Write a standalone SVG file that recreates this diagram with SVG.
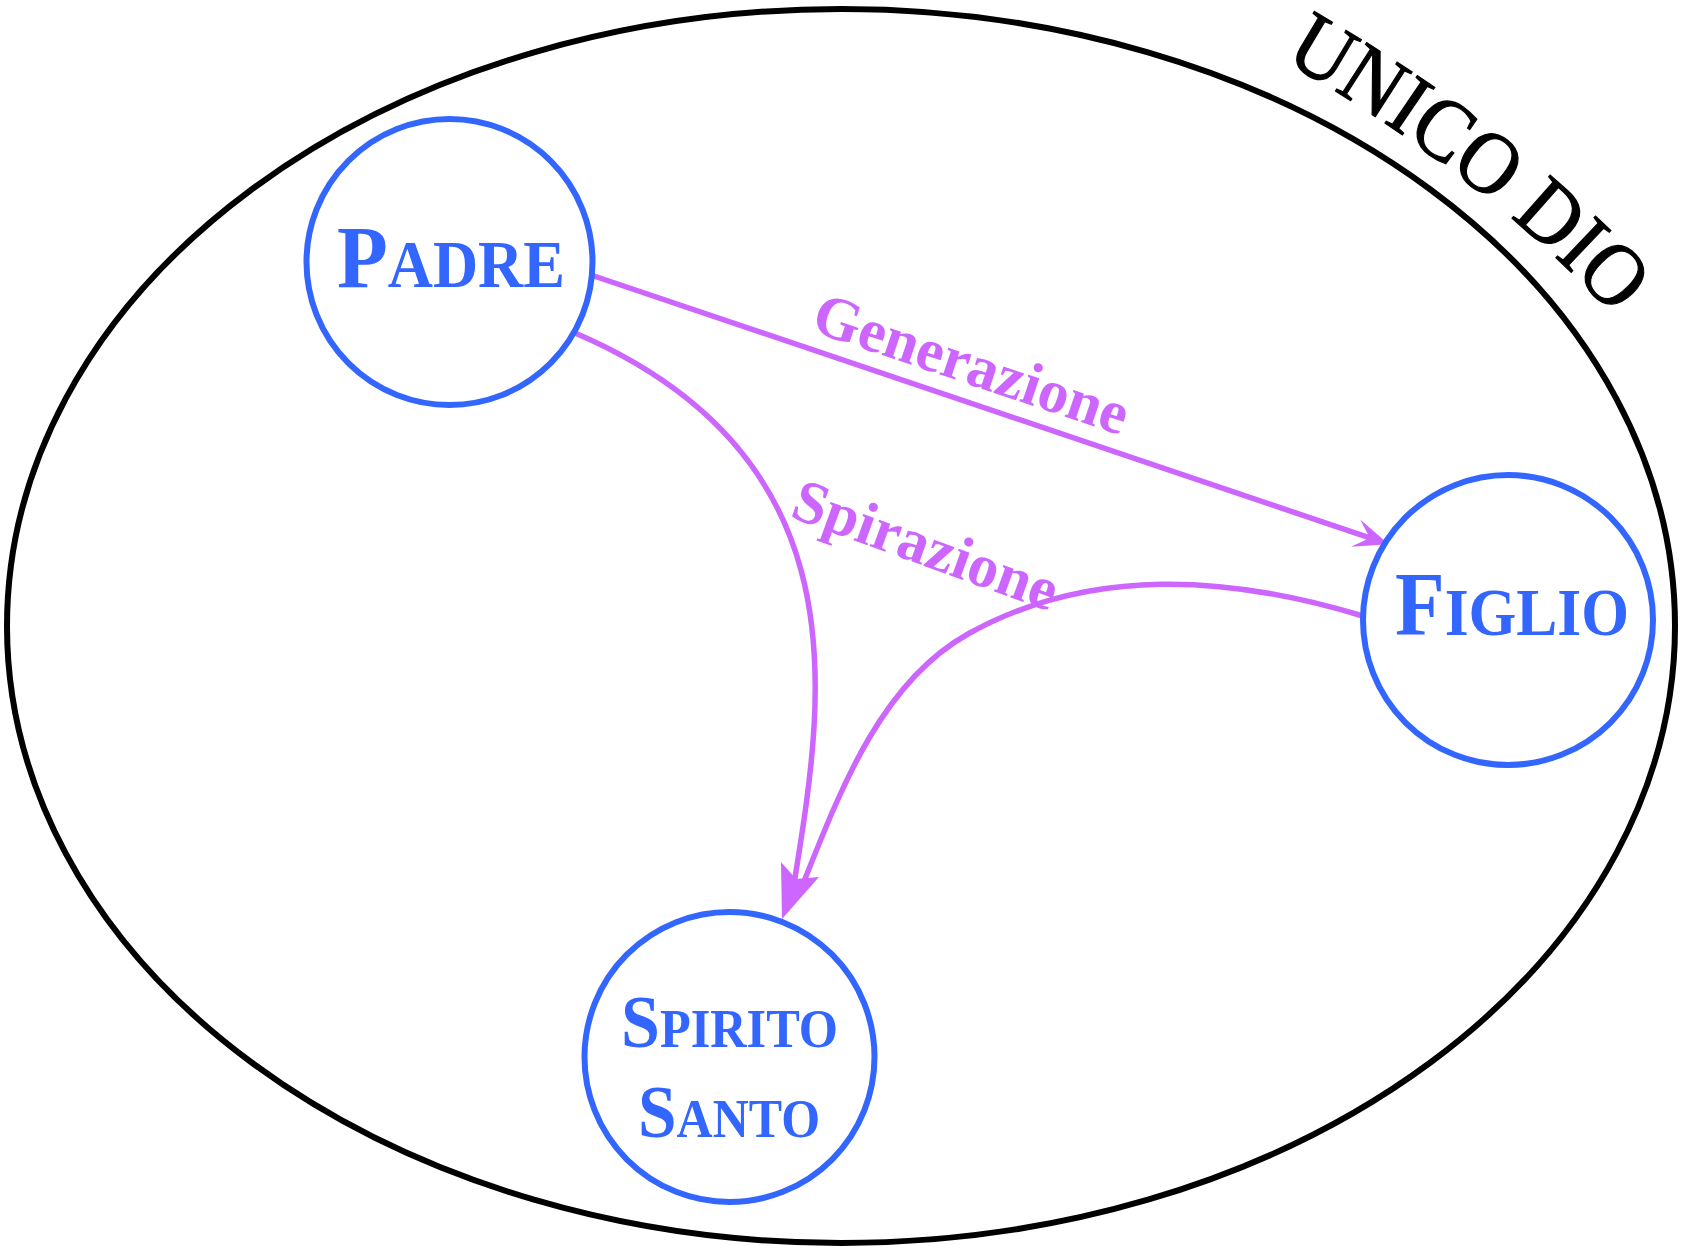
<svg xmlns="http://www.w3.org/2000/svg" width="1686" height="1246" viewBox="0 0 1686 1246">
<style>
.bg{fill:#ffffff}
.god{fill:none;stroke:#000000;stroke-width:6}
.person{fill:#ffffff;stroke:#3366ff;stroke-width:6}
.name{font-family:"Liberation Serif",serif;font-weight:bold;fill:#3366ff;text-anchor:middle}
.rel{fill:none;stroke:#cc66ff;stroke-width:5.5}
.head{fill:#cc66ff;stroke:none}
.lbl{font-family:"Liberation Serif",serif;font-weight:bold;font-size:61px;fill:#cc66ff;text-anchor:middle}
.title{font-family:"Liberation Serif",serif;font-size:88px;fill:#000000;stroke:#000000;stroke-width:1.2}
</style>
<defs>
<marker id="arrow" markerUnits="userSpaceOnUse" orient="auto" markerWidth="40" markerHeight="40" refX="0" refY="0" viewBox="-14 -14 32 28" overflow="visible">
<path class="head" d="M 16 0 L -12 -11.5 L 0 0 L -12 11.5 Z"/>
</marker>
<path id="titlePath" d="M 1283 60 Q 1484 176 1612 314 L 1672 386"/>
</defs>
<rect class="bg" x="0" y="0" width="1686" height="1246"/>
<g id="unico-dio">
<ellipse class="god" cx="841" cy="626" rx="834" ry="617"/>
<text class="title"><textPath href="#titlePath" textLength="420" lengthAdjust="spacingAndGlyphs">UNICO DIO</textPath></text>
</g>
<g id="connectors">
<line class="rel" x1="594" y1="276" x2="1369.8" y2="537.9" marker-end="url(#arrow)"/>
<path class="rel" d="M 575 333 C 685 380 769.7 454.2 801 570 C 828.4 671.3 810.8 780 794 884"/>
<path class="rel" d="M 1363 616 C 1229 575.4 1090.2 565.8 968 634 C 880.7 682.7 840 791 803 884"/>
<path class="head" d="M 782 919 L 781 862 L 796 879 L 819 877 Z"/>
<text class="lbl" transform="translate(965 383) rotate(18.6)">Generazione</text>
<text class="lbl" transform="translate(919 564) rotate(20)">Spirazione</text>
</g>
<g id="padre">
<circle class="person" cx="449.5" cy="262" r="143"/>
<text class="name" x="451" y="287" textLength="228" lengthAdjust="spacingAndGlyphs"><tspan font-size="89">P</tspan><tspan font-size="67">ADRE</tspan></text>
</g>
<g id="figlio">
<circle class="person" cx="1508" cy="620" r="145"/>
<text class="name" x="1512" y="635" textLength="234" lengthAdjust="spacingAndGlyphs"><tspan font-size="90">F</tspan><tspan font-size="68">IGLIO</tspan></text>
</g>
<g id="spirito-santo">
<circle class="person" cx="729.5" cy="1057" r="145"/>
<text class="name" x="729.5" y="1047" textLength="217" lengthAdjust="spacingAndGlyphs"><tspan font-size="75">S</tspan><tspan font-size="54">PIRITO</tspan></text>
<text class="name" x="729" y="1137" textLength="182" lengthAdjust="spacingAndGlyphs"><tspan font-size="75">S</tspan><tspan font-size="54">ANTO</tspan></text>
</g>
</svg>
